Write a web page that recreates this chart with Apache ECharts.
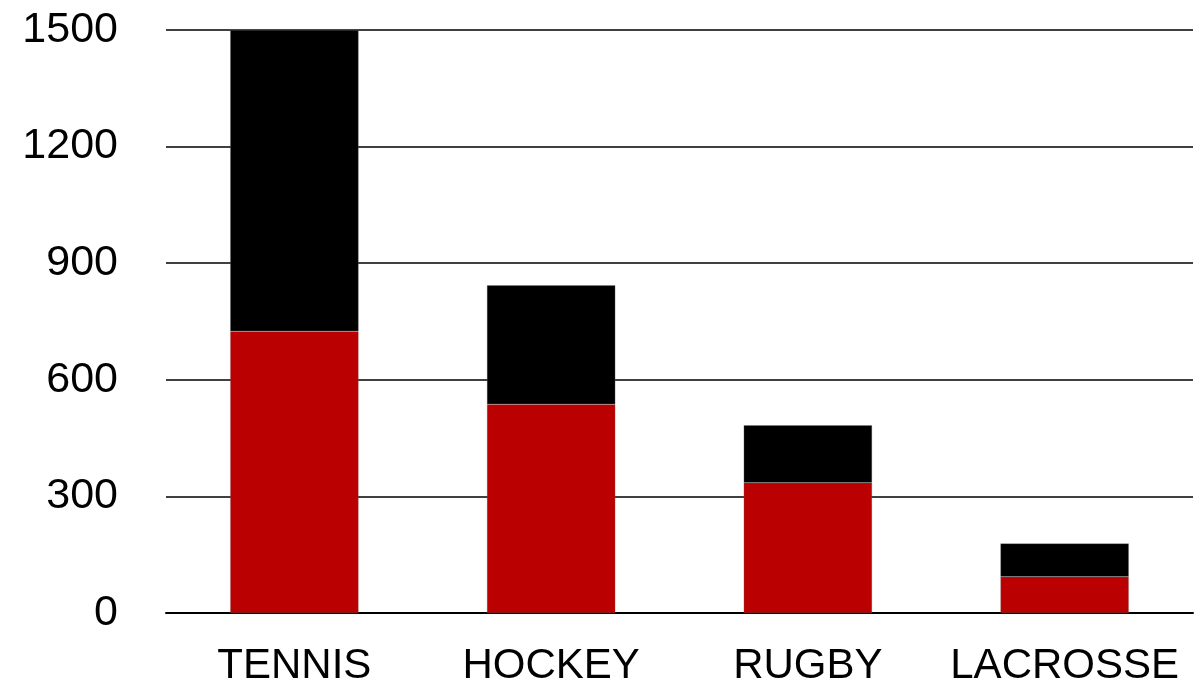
<!DOCTYPE html>
<html>
<head>
<meta charset="utf-8">
<script src="https://cdn.jsdelivr.net/npm/echarts@6/dist/echarts.min.js"></script>
<style>html,body{margin:0;padding:0;background:#fff;}#c{width:1204px;height:687px;}</style>
</head>
<body>
<div id="c"></div>
<script>
const categories = ['TENNIS', 'HOCKEY', 'RUGBY', 'LACROSSE'];
const redValues = [725, 537, 335, 93];
const blackValues = [775, 306, 148, 86];
const yTicks = { min: 0, max: 1500, interval: 300 };

const chart = echarts.init(document.getElementById('c'));
const font = 'Liberation Sans, Arial, sans-serif';
chart.setOption({
  animation: false,
  grid: { left: 166, right: 11, top: 30, bottom: 74 },
  xAxis: {
    type: 'category',
    data: categories,
    axisTick: { show: false },
    axisLine: { lineStyle: { color: '#000', width: 2 } },
    axisLabel: { color: '#000', fontSize: 42, fontFamily: font, margin: 32, interval: 0 }
  },
  yAxis: {
    type: 'value',
    min: yTicks.min, max: yTicks.max, interval: yTicks.interval,
    axisLine: { show: false },
    axisTick: { show: false },
    splitLine: { lineStyle: { color: '#000', width: 1.5 } },
    axisLabel: { color: '#000', fontSize: 43, fontFamily: font, margin: 48, formatter: v => String(v) }
  },
  series: [
    { type: 'bar', stack: 's', data: redValues, barWidth: '50%',
      itemStyle: { color: '#BA0000', borderColor: 'rgba(120,120,120,0.5)', borderWidth: 0.5 } },
    { type: 'bar', stack: 's', data: blackValues, barWidth: '50%',
      itemStyle: { color: '#000000', borderColor: 'rgba(120,120,120,0.6)', borderWidth: 0.5 } }
  ]
});
</script>
</body>
</html>
